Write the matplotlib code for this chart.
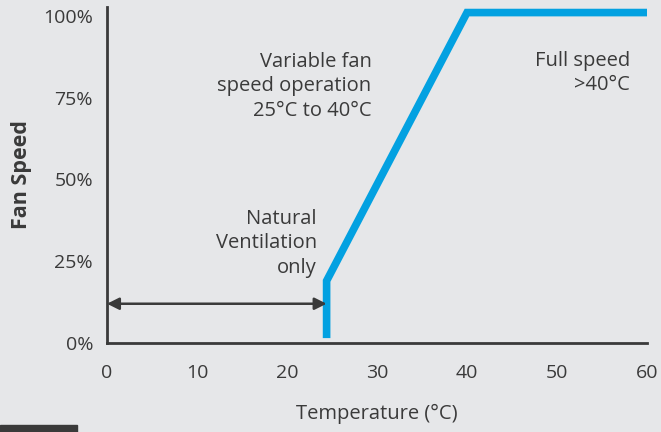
import matplotlib.pyplot as plt
from matplotlib.patches import Rectangle

# fan curve
temp = [24.4, 24.4, 40.0, 60.0]
speed = [1.5, 19.0, 101.0, 101.0]

x_ticks = [0, 10, 20, 30, 40, 50, 60]
y_ticks = [0, 25, 50, 75, 100]
y_labels = ["0%", "25%", "50%", "75%", "100%"]

natural_range = [0, 24.4]
natural_y = 12

BG = "#e6e7e9"
INK = "#3a3a3a"
BLUE = "#03a1e1"

plt.rcParams["font.family"] = ["Open Sans", "DejaVu Sans"]

fig = plt.figure(figsize=(6.61, 4.32), dpi=100, facecolor=BG)
ax = fig.add_axes([107/661, 1 - 343/432, 540/661, 336/432])
ax.set_facecolor(BG)

ax.plot(temp, speed, color=BLUE, lw=5.5, solid_joinstyle="miter", solid_capstyle="butt")

ax.annotate("", xy=(natural_range[0], natural_y), xytext=(natural_range[1], natural_y),
            arrowprops=dict(arrowstyle="<|-|>", color=INK, lw=1.8,
                            mutation_scale=18, shrinkA=0, shrinkB=0))

ax.set_xlim(0, 60)
ax.set_ylim(0, 102.7)
ax.set_xticks(x_ticks)
ax.set_yticks(y_ticks)
ax.set_yticklabels(y_labels)
ax.tick_params(length=0, labelsize=14, labelcolor=INK, pad=10)
ax.tick_params(axis="x", pad=15)

for side in ["top", "right"]:
    ax.spines[side].set_visible(False)
for side in ["left", "bottom"]:
    ax.spines[side].set_color(INK)
    ax.spines[side].set_linewidth(2)

ax.set_xlabel("Temperature (°C)", fontsize=14.5, color=INK, labelpad=16)
ax.set_ylabel("Fan Speed", fontsize=15.5, color=INK, fontweight="bold", labelpad=8)

txt = dict(fontsize=14.5, color=INK, ha="right", va="center", linespacing=1.3)
ax.text(29.4, 78.5, "Variable fan\nspeed operation\n25°C to 40°C", **txt)
ax.text(58.1, 82.5, "Full speed\n>40°C", **txt)
ax.text(23.3, 30.5, "Natural\nVentilation\nonly", **txt)

fig.patches.append(Rectangle((0, 0), 77/661, 7/432, transform=fig.transFigure,
                             color=INK, zorder=0))

fig.savefig("out.png", dpi=100, facecolor=BG)
